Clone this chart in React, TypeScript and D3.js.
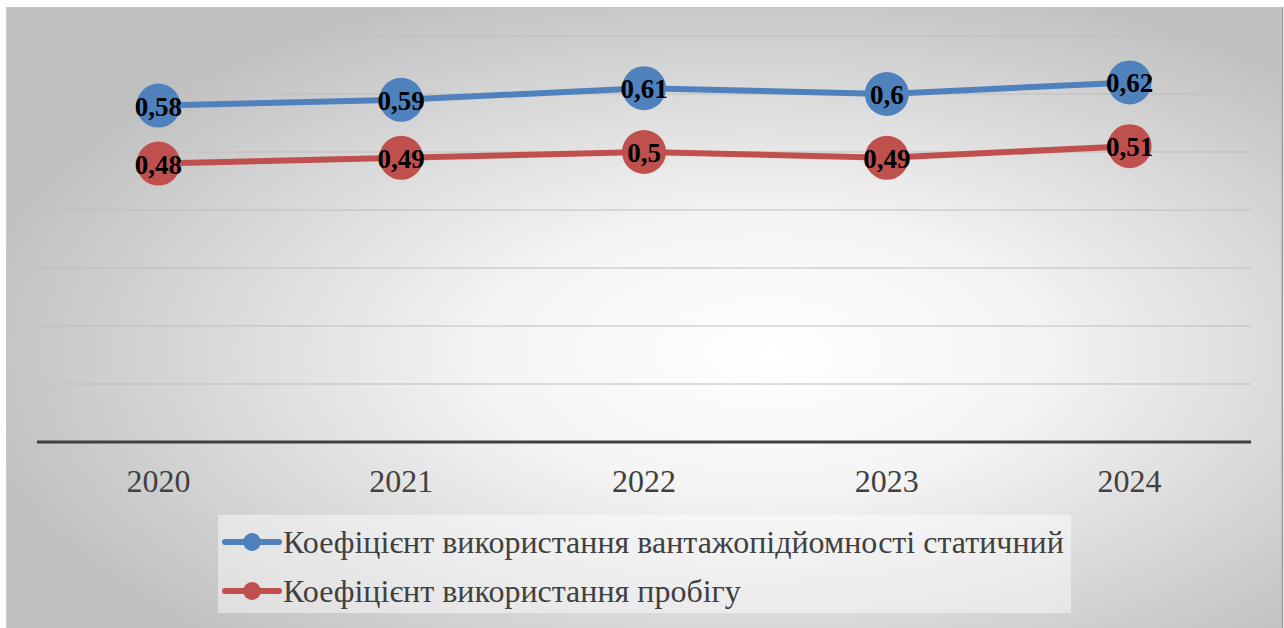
import React from "react";
import * as d3 from "d3";

const categories = ["2020", "2021", "2022", "2023", "2024"];
const seriesNames = [
  "Коефіцієнт використання вантажопідйомності статичний",
  "Коефіцієнт використання пробігу",
];
const seriesA = [0.58, 0.59, 0.61, 0.6, 0.62];
const seriesB = [0.48, 0.49, 0.5, 0.49, 0.51];
const colors = ["#4F81BD", "#C0504D"];
const yTicks = [0, 0.1, 0.2, 0.3, 0.4, 0.5, 0.6, 0.7];

const W = 1284;
const H = 628;
const SERIF = "'Liberation Serif', 'Times New Roman', serif";

export default function App() {
  const x = d3.scaleBand<string>().domain(categories).range([37, 1251]);
  const y = d3.scaleLinear().domain([0, 0.7]).range([442, 36]);
  const cx = (c: string) => (x(c) ?? 0) + x.bandwidth() / 2;
  const line = d3
    .line<number>()
    .x((_, i) => cx(categories[i]))
    .y((d) => y(d));
  const series = [seriesA, seriesB];
  const fmt = (v: number) => String(v).replace(".", ",");

  return (
    <svg
      width={W}
      height={H}
      style={{ position: "absolute", left: 0, top: 0 }}
      xmlns="http://www.w3.org/2000/svg"
    >
      <defs>
        <radialGradient id="bg" cx="0.58" cy="0.55" r="0.62" fx="0.6" fy="0.55">
          <stop offset="0" stopColor="#ffffff" />
          <stop offset="0.35" stopColor="#f4f4f4" />
          <stop offset="1" stopColor="#c0c0c0" />
        </radialGradient>
      </defs>
      <rect x={0} y={0} width={W} height={H} fill="#ffffff" />
      <rect x={6.5} y={7.5} width={1275} height={630} fill="url(#bg)" stroke="#c8c8c8" strokeWidth={1} />
      <line x1={1282.5} y1={7} x2={1282.5} y2={H} stroke="#9a9a9a" strokeWidth={1.5} />

      {yTicks
        .filter((t) => t > 0)
        .map((t) => (
          <line key={t} x1={37} x2={1251} y1={y(t)} y2={y(t)} stroke="#bdbdbd" strokeWidth={1.2} />
        ))}
      <line x1={37} x2={1251} y1={y(0)} y2={y(0)} stroke="#404040" strokeWidth={3} />

      {categories.map((c) => (
        <text
          key={c}
          x={cx(c)}
          y={492}
          textAnchor="middle"
          style={{ fontFamily: SERIF, fontSize: 32 }}
          fill="#404040"
        >
          {c}
        </text>
      ))}

      {series.map((s, si) => (
        <g key={si}>
          <path d={line(s) ?? ""} fill="none" stroke={colors[si]} strokeWidth={6} strokeLinejoin="round" strokeLinecap="round" />
          {s.map((v, i) => (
            <circle key={i} cx={cx(categories[i])} cy={y(v)} r={22} fill={colors[si]} />
          ))}
        </g>
      ))}
      {series.map((s, si) => (
        <g key={"l" + si}>
          {s.map((v, i) => (
            <text
              key={i}
              x={cx(categories[i])}
              y={y(v) + 10}
              textAnchor="middle"
              style={{ fontFamily: SERIF, fontSize: 27, fontWeight: "bold" }}
              fill="#000000"
            >
              {fmt(v)}
            </text>
          ))}
        </g>
      ))}

      <rect x={218} y={515} width={853} height={98} fill="#ffffff" fillOpacity={0.45} />
      {seriesNames.map((n, i) => {
        const cy = 542 + i * 49;
        return (
          <g key={n}>
            <line x1={225} x2={279} y1={cy} y2={cy} stroke={colors[i]} strokeWidth={6} strokeLinecap="round" />
            <circle cx={252} cy={cy} r={9} fill={colors[i]} />
            <text
              x={283}
              y={cy + 11}
              style={{ fontFamily: SERIF, fontSize: 32 }}
              fill="#404040"
            >
              {n}
            </text>
          </g>
        );
      })}
    </svg>
  );
}
